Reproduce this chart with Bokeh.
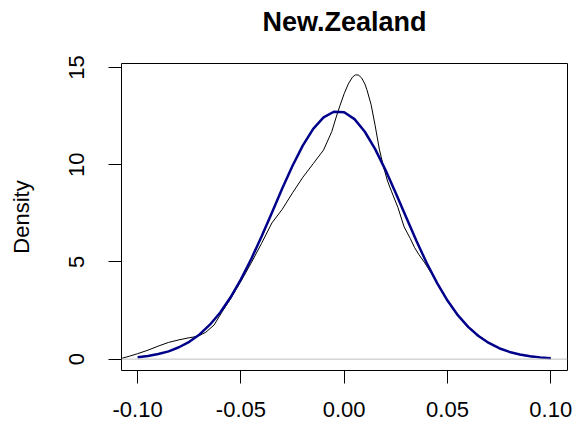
from bokeh.plotting import figure
from bokeh.models import Range1d, FixedTicker, Span, LinearAxis
from bokeh.embed import file_html
from bokeh.resources import INLINE

title_text = "New.Zealand"
y_label = "Density"

x_ticks = [-0.10, -0.05, 0.00, 0.05, 0.10]
x_tick_labels = ["-0.10", "-0.05", "0.00", "0.05", "0.10"]
y_ticks = [0, 5, 10, 15]
y_tick_labels = ["0", "5", "10", "15"]

# empirical density (thin black line)
kde_x = [-0.108, -0.104, -0.100, -0.095, -0.090, -0.085, -0.080, -0.075, -0.071, -0.067,
         -0.063, -0.059, -0.055, -0.050, -0.045, -0.040, -0.035, -0.030, -0.025, -0.020,
         -0.015, -0.010, -0.006, -0.004, -0.002, 0.000, 0.002, 0.004, 0.0055, 0.007,
         0.0085, 0.010, 0.011, 0.013, 0.015, 0.017, 0.019, 0.021, 0.023, 0.026,
         0.029, 0.032, 0.034, 0.036, 0.039, 0.042, 0.045, 0.050, 0.055, 0.060,
         0.065, 0.070, 0.075, 0.080, 0.085, 0.090, 0.095, 0.100]
kde_y = [0.03, 0.15, 0.28, 0.46, 0.67, 0.86, 0.99, 1.10, 1.17, 1.38,
         1.75, 2.45, 3.10, 4.00, 4.95, 5.95, 7.00, 7.70, 8.55, 9.35,
         10.05, 10.75, 11.70, 12.40, 13.05, 13.65, 14.15, 14.50, 14.62, 14.60,
         14.45, 14.15, 13.85, 13.10, 12.00, 10.80, 9.90, 9.15, 8.60, 7.80,
         6.80, 6.20, 5.75, 5.40, 4.95, 4.45, 3.90, 3.00, 2.25, 1.68,
         1.22, 0.85, 0.57, 0.37, 0.23, 0.13, 0.07, 0.03]

# normal density (thick dark blue line)
norm_x = [-0.100, -0.095, -0.090, -0.085, -0.080, -0.075, -0.070, -0.065, -0.060, -0.055,
          -0.050, -0.045, -0.040, -0.035, -0.030, -0.025, -0.020, -0.015, -0.010, -0.005,
          0.000, 0.005, 0.010, 0.015, 0.020, 0.025, 0.030, 0.035, 0.040, 0.045,
          0.050, 0.055, 0.060, 0.065, 0.070, 0.075, 0.080, 0.085, 0.090, 0.095, 0.100]
norm_y = [0.10, 0.16, 0.26, 0.40, 0.61, 0.89, 1.27, 1.77, 2.40, 3.18,
          4.10, 5.15, 6.31, 7.53, 8.77, 9.94, 10.99, 11.84, 12.43, 12.72,
          12.69, 12.34, 11.69, 10.80, 9.72, 8.53, 7.29, 6.07, 4.93, 3.91,
          3.01, 2.26, 1.66, 1.19, 0.83, 0.56, 0.37, 0.24, 0.15, 0.09, 0.05]

FONT = "Liberation Sans"

p = figure(width=575, height=432, output_backend="svg", toolbar_location=None,
           x_range=Range1d(-0.1078, 0.1081), y_range=Range1d(-0.585, 15.2))
p.min_border_left = 121
p.min_border_right = 8
p.min_border_top = 63
p.min_border_bottom = 62
p.background_fill_color = "white"
p.border_fill_color = "white"
p.outline_line_color = "black"
p.outline_line_width = 1
p.outline_line_alpha = 1.0
p.xgrid.visible = False
p.ygrid.visible = False

for ax in (p.xaxis[0], p.yaxis[0]):
    ax.axis_line_color = None
    ax.major_tick_line_color = "black"
    ax.major_tick_line_width = 1
    ax.major_tick_in = 0
    ax.major_tick_out = 13
    ax.minor_tick_line_color = None
    ax.major_label_text_font = FONT
    ax.major_label_text_font_size = "22px"
    ax.major_label_text_color = "black"

p.xaxis[0].ticker = FixedTicker(ticks=x_ticks)
p.xaxis[0].major_label_overrides = {t: l for t, l in zip(x_ticks, x_tick_labels)}
p.xaxis[0].major_label_standoff = 18

p.yaxis[0].ticker = FixedTicker(ticks=y_ticks)
p.yaxis[0].major_label_overrides = {t: l for t, l in zip(y_ticks, y_tick_labels)}
p.yaxis[0].major_label_orientation = "vertical"
p.yaxis[0].major_label_standoff = 24
p.yaxis[0].axis_label = y_label
p.yaxis[0].axis_label_text_font = FONT
p.yaxis[0].axis_label_text_font_size = "22px"
p.yaxis[0].axis_label_text_font_style = "normal"
p.yaxis[0].axis_label_text_color = "black"
p.yaxis[0].axis_label_standoff = 33

# main title, carried by a tick-less axis above the plot region
top = LinearAxis(ticker=FixedTicker(ticks=[]), axis_label=title_text,
                 axis_line_color=None, major_tick_in=0, major_tick_out=0,
                 minor_tick_line_color=None, major_tick_line_color=None,
                 major_label_standoff=0,
                 axis_label_text_font=FONT, axis_label_text_font_size="27px",
                 axis_label_text_font_style="bold", axis_label_text_color="black",
                 axis_label_standoff=27)
p.add_layout(top, "above")

p.add_layout(Span(location=0, dimension="width", line_color="#BEBEBE", line_width=1))

p.line(kde_x, kde_y, line_color="black", line_width=1)
p.line(norm_x, norm_y, line_color="#00008B", line_width=2.5)

open("out.html", "w").write(file_html(p, INLINE))
